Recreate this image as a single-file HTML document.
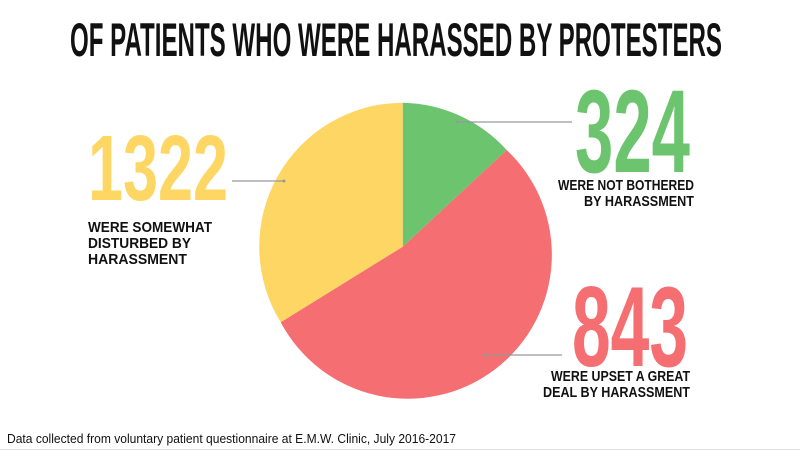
<!DOCTYPE html>
<html><head><meta charset="utf-8"><style>
html,body{margin:0;padding:0;background:#fff;width:800px;height:450px;overflow:hidden}
</style></head><body>
<svg width="800" height="450" viewBox="0 0 800 450" xmlns="http://www.w3.org/2000/svg">
<rect width="800" height="450" fill="#fff"/>
<g font-family="Liberation Sans, sans-serif" font-weight="bold">
<text x="70" y="56" font-size="47" textLength="652" lengthAdjust="spacingAndGlyphs" fill="#111">OF PATIENTS WHO WERE HARASSED BY PROTESTERS</text>
<path d="M402.7,246.7 L402.7,102.7 A144,144 0 0 1 506.7,150 Z" fill="#6CC56E"/>
<path d="M402.7,246.7 L506.7,150 A144,144 0 1 1 280.7,322.3 Z" fill="#F46E72"/>
<path d="M402.7,246.7 L280.7,322.3 A144,144 0 0 1 402.7,102.7 Z" fill="#FDD663"/>
<g stroke="#999" stroke-width="1.2">
<line x1="232" y1="181" x2="284" y2="181"/>
<line x1="457" y1="122" x2="572" y2="122"/>
<line x1="485" y1="355" x2="562" y2="355"/>
</g>
<g fill="#999"><circle cx="284" cy="181" r="1.5"/><circle cx="457" cy="122" r="1.5"/><circle cx="485" cy="355" r="1.5"/></g>
<text x="88" y="200" font-size="93" textLength="140" lengthAdjust="spacingAndGlyphs" fill="#FDD663">1322</text>
<text x="575" y="172" font-size="118" textLength="115" lengthAdjust="spacingAndGlyphs" fill="#6CC56E">324</text>
<text x="572" y="366" font-size="114" textLength="116" lengthAdjust="spacingAndGlyphs" fill="#F46E72">843</text>
<g font-size="15" fill="#111">
<text x="88" y="232" textLength="124" lengthAdjust="spacingAndGlyphs">WERE SOMEWHAT</text>
<text x="88" y="248" textLength="103" lengthAdjust="spacingAndGlyphs">DISTURBED BY</text>
<text x="88" y="264" textLength="99" lengthAdjust="spacingAndGlyphs">HARASSMENT</text>
<text x="558" y="190" textLength="136" lengthAdjust="spacingAndGlyphs">WERE NOT BOTHERED</text>
<text x="584" y="206" textLength="110" lengthAdjust="spacingAndGlyphs">BY HARASSMENT</text>
<text x="551" y="381" textLength="139" lengthAdjust="spacingAndGlyphs">WERE UPSET A GREAT</text>
<text x="543" y="397" textLength="147" lengthAdjust="spacingAndGlyphs">DEAL BY HARASSMENT</text>
</g>
</g>
<text x="7" y="443" font-family="Liberation Sans, sans-serif" font-size="13" textLength="449" lengthAdjust="spacingAndGlyphs" fill="#111">Data collected from voluntary patient questionnaire at E.M.W. Clinic, July 2016-2017</text>
<line x1="0" y1="449.5" x2="800" y2="449.5" stroke="#ddd"/>
</svg>
</body></html>
